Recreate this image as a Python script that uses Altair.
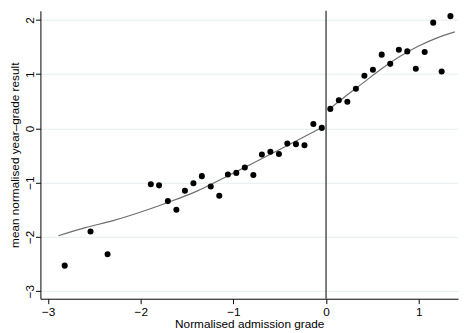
import altair as alt
import pandas as pd

# binned means (scatter)
bin_x = [-2.822, -2.543, -2.359, -1.892, -1.803, -1.708, -1.616, -1.524, -1.432, -1.341,
         -1.245, -1.153, -1.060, -0.969, -0.877, -0.785, -0.693, -0.601, -0.509, -0.418,
         -0.325, -0.233, -0.137, -0.046, 0.046, 0.138, 0.230, 0.322, 0.414, 0.506,
         0.601, 0.693, 0.786, 0.877, 0.969, 1.065, 1.157, 1.248, 1.343]
mean_y = [-2.53, -1.90, -2.32, -1.03, -1.05, -1.34, -1.50, -1.15, -1.01, -0.88,
          -1.07, -1.24, -0.85, -0.82, -0.72, -0.86, -0.48, -0.43, -0.47, -0.28,
          -0.29, -0.31, 0.08, 0.01, 0.36, 0.52, 0.49, 0.73, 0.97, 1.08,
          1.36, 1.19, 1.45, 1.42, 1.10, 1.41, 1.95, 1.05, 2.07]

# fitted curves on each side of the cutoff
fit_left_x = [-2.89, -2.6, -2.3, -2.0, -1.7, -1.4, -1.1, -0.8, -0.5, -0.2, -0.04]
fit_left_y = [-1.98, -1.83, -1.70, -1.54, -1.36, -1.16, -0.91, -0.65, -0.39, -0.12, 0.02]
fit_right_x = [0.03, 0.2, 0.4, 0.6, 0.8, 1.0, 1.2, 1.39]
fit_right_y = [0.35, 0.58, 0.84, 1.10, 1.33, 1.52, 1.67, 1.78]

cutoff = 0
x_ticks = [-3, -2, -1, 0, 1]
y_ticks = [-3, -2, -1, 0, 1, 2]

pts = pd.DataFrame({"x": bin_x, "y": mean_y})
fit = pd.DataFrame({
    "x": fit_left_x + fit_right_x,
    "y": fit_left_y + fit_right_y,
    "side": ["left"] * len(fit_left_x) + ["right"] * len(fit_right_x),
})

FONT = "Liberation Sans"
W, H = 425, 293

xscale = alt.Scale(domain=[-3.084, 1.425], nice=False, zero=False)
yscale = alt.Scale(domain=[-3.14, 2.168], nice=False, zero=False)

xaxis = alt.Axis(values=x_ticks, format="d", title="Normalised admission grade", grid=False,
                 tickSize=5, labelPadding=3, titleX=W / 2, titleY=29,
                 titleBaseline="alphabetic", titleAlign="center")
yaxis = alt.Axis(values=y_ticks, format="d", title="mean normalised year–grade result", grid=True,
                 gridColor="#e6eef0", gridWidth=1, tickSize=5, labelAngle=270,
                 labelAlign="center", labelBaseline="middle", labelPadding=6,
                 titleX=-22, titleY=H / 2, titleAngle=270, titleAlign="center",
                 titleBaseline="alphabetic")

points = alt.Chart(pts).mark_circle(size=38, color="black", opacity=1).encode(
    x=alt.X("x:Q", scale=xscale, axis=xaxis),
    y=alt.Y("y:Q", scale=yscale, axis=yaxis),
)

lines = alt.Chart(fit).mark_line(color="#6e6e6e", strokeWidth=1.2, interpolate="monotone").encode(
    x=alt.X("x:Q", scale=xscale),
    y=alt.Y("y:Q", scale=yscale),
    detail="side:N",
)

vline = alt.Chart(pd.DataFrame({"c": [cutoff]})).mark_rule(color="#5a5a5a", strokeWidth=1.6).encode(
    x=alt.X("c:Q", scale=xscale),
)

chart = alt.layer(vline, lines, points).properties(
    width=W, height=H,
    autosize=alt.AutoSizeParams(type="none"),
    padding={"left": 33, "top": 0, "right": 2, "bottom": 32},
).configure_view(stroke=None).configure_axis(
    domainColor="black", tickColor="black", labelColor="black", titleColor="black",
    labelFont=FONT, titleFont=FONT, labelFontSize=12, titleFontSize=12,
    titleFontWeight="normal", domainWidth=1, tickWidth=1,
)

chart.save("out.html", embed_options={"renderer": "svg", "actions": False})
